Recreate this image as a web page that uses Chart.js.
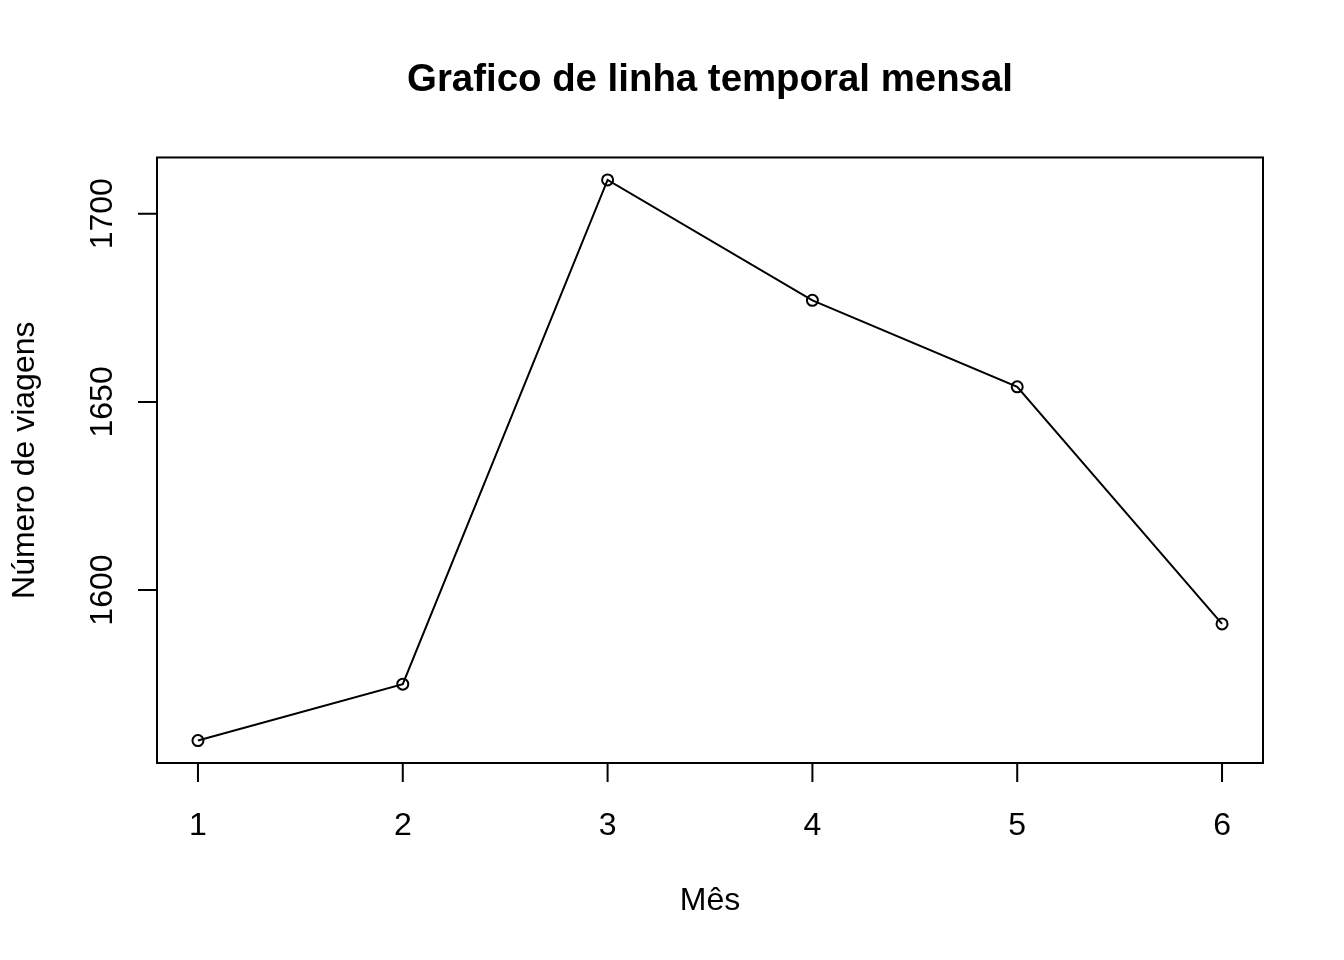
<!DOCTYPE html>
<html><head><meta charset="utf-8">
<script src="https://cdn.jsdelivr.net/npm/chart.js@4/dist/chart.umd.min.js"></script>
<style>html,body{margin:0;padding:0;background:#fff}canvas{display:block}</style>
</head><body>
<canvas id="c" width="1344" height="960"></canvas>
<script>
const meses = [1, 2, 3, 4, 5, 6];
const viagens = [1560, 1575, 1709, 1677, 1654, 1591];
const xTicks = [1, 2, 3, 4, 5, 6];
const yTicks = [1600, 1650, 1700];
const titulo = 'Grafico de linha temporal mensal';
const xTitulo = 'Mês';
const yTitulo = 'Número de viagens';

function rExtend(arr) {
  const lo = Math.min(...arr), hi = Math.max(...arr), d = (hi - lo) * 0.04;
  return [lo - d, hi + d];
}
const [xMin, xMax] = rExtend(meses);
const [yMin, yMax] = rExtend(viagens);
const FONT = "'Liberation Sans', Arial, sans-serif";

const rAxes = {
  id: 'rAxes',
  afterDraw(chart) {
    const ctx = chart.ctx, a = chart.chartArea, xs = chart.scales.x, ys = chart.scales.y;
    ctx.save();
    ctx.strokeStyle = '#000';
    ctx.fillStyle = '#000';
    ctx.lineWidth = 2;
    ctx.strokeRect(a.left, a.top, a.right - a.left, a.bottom - a.top);
    // x axis
    const xp = xs.ticks.map(t => xs.getPixelForValue(t.value));
    ctx.beginPath();
    ctx.moveTo(xp[0], a.bottom); ctx.lineTo(xp[xp.length - 1], a.bottom);
    xp.forEach(px => { ctx.moveTo(px, a.bottom); ctx.lineTo(px, a.bottom + 19); });
    // y axis
    const yp = ys.ticks.map(t => ys.getPixelForValue(t.value));
    ctx.moveTo(a.left, yp[0]); ctx.lineTo(a.left, yp[yp.length - 1]);
    yp.forEach(py => { ctx.moveTo(a.left, py); ctx.lineTo(a.left - 19, py); });
    ctx.stroke();
    ctx.font = '32px ' + FONT;
    ctx.textAlign = 'center';
    ctx.textBaseline = 'alphabetic';
    xs.ticks.forEach((t, i) => ctx.fillText(String(t.value), xp[i], 835));
    ctx.fillText(xTitulo, (a.left + a.right) / 2, 910);
    ys.ticks.forEach((t, i) => {
      ctx.save();
      ctx.translate(112, yp[i]);
      ctx.rotate(-Math.PI / 2);
      ctx.fillText(String(t.value), 0, 0);
      ctx.restore();
    });
    ctx.save();
    ctx.translate(33.5, (a.top + a.bottom) / 2);
    ctx.rotate(-Math.PI / 2);
    ctx.fillText(yTitulo, 0, 0);
    ctx.restore();
    ctx.restore();
  }
};

new Chart(document.getElementById('c'), {
  type: 'line',
  data: {
    datasets: [{
      data: meses.map((m, i) => ({ x: m, y: viagens[i] })),
      borderColor: '#000',
      borderWidth: 2,
      backgroundColor: 'rgba(0,0,0,0)',
      pointRadius: 5.5,
      pointBorderWidth: 2,
      pointBorderColor: '#000',
      pointBackgroundColor: 'rgba(0,0,0,0)',
      tension: 0,
      fill: false
    }]
  },
  options: {
    responsive: false,
    devicePixelRatio: 1,
    animation: false,
    events: [],
    layout: { padding: { left: 157, right: 81, top: 0, bottom: 197 } },
    plugins: {
      legend: { display: false },
      tooltip: { enabled: false },
      title: {
        display: true,
        text: titulo,
        color: '#000',
        font: { family: FONT, size: 38.4, weight: 'bold', lineHeight: 1.2 },
        padding: { top: 57, bottom: 54.4 }
      }
    },
    scales: {
      x: {
        type: 'linear', display: false, min: xMin, max: xMax,
        afterBuildTicks: s => { s.ticks = xTicks.map(v => ({ value: v })); }
      },
      y: {
        type: 'linear', display: false, min: yMin, max: yMax,
        afterBuildTicks: s => { s.ticks = yTicks.map(v => ({ value: v })); }
      }
    }
  },
  plugins: [rAxes]
});
</script>
</body></html>
